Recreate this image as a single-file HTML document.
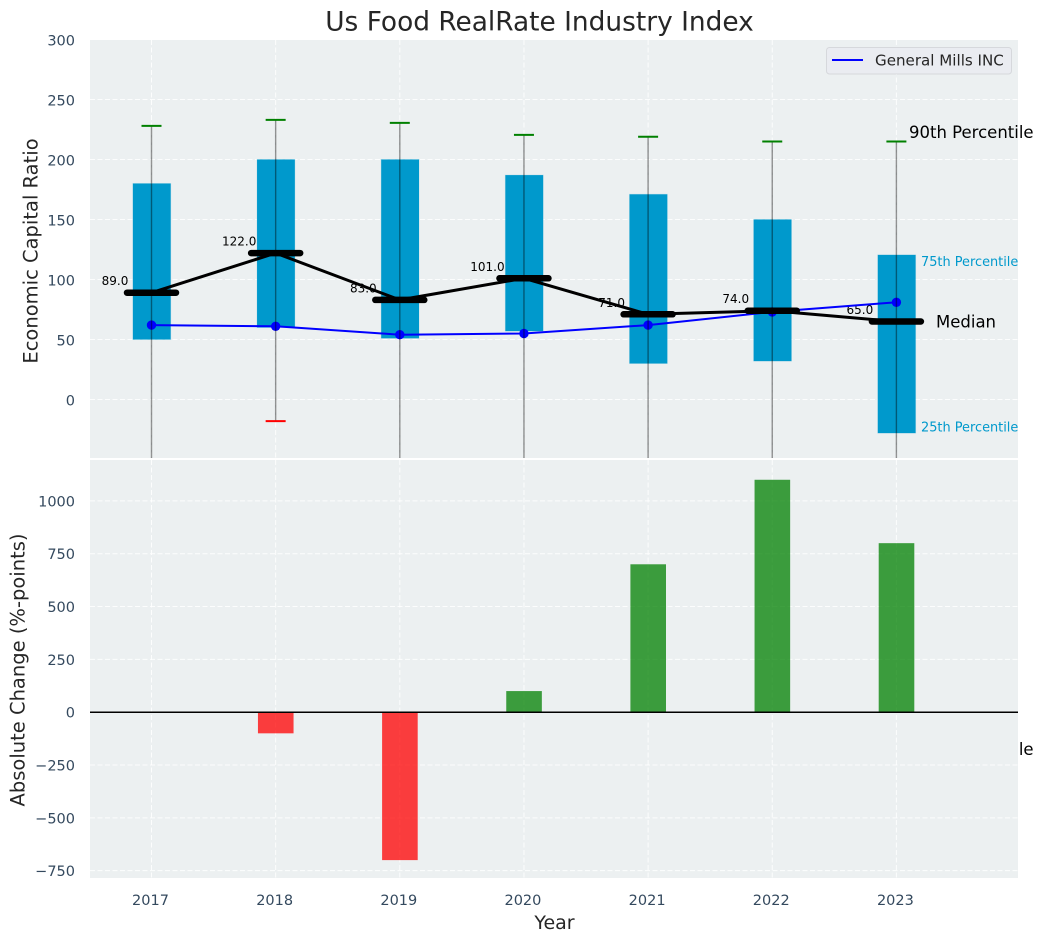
<!DOCTYPE html>
<html lang="en">
<head>
<meta charset="utf-8">
<title>Us Food RealRate Industry Index</title>
<style>
html,body{margin:0;padding:0;background:#fff;width:1044px;height:942px;overflow:hidden}
svg{display:block;font-family:"DejaVu Sans","Liberation Sans",sans-serif}
</style>
</head>
<body>
<svg id="chart" xmlns="http://www.w3.org/2000/svg" width="1044" height="942" viewBox="0 0 1044 942">
  <defs>
    <clipPath id="clip-top"><rect x="90" y="40" width="928" height="418"></rect></clipPath>
    <clipPath id="clip-bottom"><rect x="90" y="460" width="928" height="418"></rect></clipPath>
  </defs>
  <text x="539.5" y="30.5" text-anchor="middle" font-size="26.4" fill="#262626">Us Food RealRate Industry Index</text>
  <rect x="90" y="40" width="928" height="418" fill="#ecf0f1"></rect>
  <g id="top-grid"></g>
  <g id="top-labels"></g>
  <g id="top-marks" clip-path="url(#clip-top)"></g>
  <g id="top-annotations"></g>
  <rect x="90" y="460" width="928" height="418" fill="#ecf0f1"></rect>
  <g id="bottom-grid"></g>
  <g id="bottom-marks" clip-path="url(#clip-bottom)"></g>
  <g id="ticks"></g>
  <text transform="translate(37.5,251) rotate(-90)" text-anchor="middle" font-size="19.5" fill="#262626">Economic Capital Ratio</text>
  <text transform="translate(24.5,670) rotate(-90)" text-anchor="middle" font-size="19.5" fill="#262626">Absolute Change (%-points)</text>
  <text x="554.5" y="929" text-anchor="middle" font-size="19" fill="#262626">Year</text>
  <g>
    <rect x="826.5" y="47.5" width="185" height="26.5" rx="3" fill="#eaecf1" stroke="#d6d8dc" stroke-width="1"></rect>
    <line x1="832" y1="60" x2="863" y2="60" stroke="#0000ff" stroke-width="2"></line>
    <text x="875" y="65.5" font-size="15.1" fill="#262626">General Mills INC</text>
  </g>
</svg>
<script>
const years = ['2017', '2018', '2019', '2020', '2021', '2022', '2023'];
const p90 = [228, 233, 230.5, 220.5, 219, 215, 215];
const p75 = [180, 200, 200, 187, 171, 150, 120.5];
const medians = [89, 122, 83, 101, 71, 74, 65];
const p25 = [50, 60, 51, 57, 30, 32, -28];
const p10 = [-250, -18, -180, -200, -260, -280, -299];
const companyValues = [62, 61, 54, 55, 62, 73, 81];
const changeValues = [0, -100, -700, 100, 700, 1100, 800];
const topTicks = [0, 50, 100, 150, 200, 250, 300];
const bottomTicks = [-750, -500, -250, 0, 250, 500, 750, 1000];

const NS = 'http://www.w3.org/2000/svg';
const xScale = i => 151.5 + i * 124.15;
const yTop = v => 399.5 - v * 1.2;
const yBottom = v => 712.2 - v * 0.2113;
const g = id => document.getElementById(id);

function mk(parent, tag, attrs, txt) {
  const el = document.createElementNS(NS, tag);
  for (const k in attrs) el.setAttribute(k, attrs[k]);
  if (txt !== undefined) el.textContent = txt;
  parent.appendChild(el);
  return el;
}
const gridStyle = {stroke: '#ffffff', 'stroke-width': 1, 'stroke-dasharray': '5 2.5', 'stroke-opacity': 0.85};
const tickStyle = {'font-size': 14.5, fill: '#34495e'};

topTicks.forEach(v => {
  const line = mk(g('top-grid'), 'line', {x1: 90, x2: 1018, y1: yTop(v), y2: yTop(v), ...gridStyle});
  
  
  const t = mk(g('ticks'), 'text', {x: 75, y: yTop(v) + 6, 'text-anchor': 'end', ...tickStyle}, String(v));
  
  
});
bottomTicks.forEach(v => {
  const line = mk(g('bottom-grid'), 'line', {x1: 90, x2: 1018, y1: yBottom(v), y2: yBottom(v), ...gridStyle});
  
  
  const t = mk(g('ticks'), 'text', {x: 75, y: yBottom(v) + 5.5, 'text-anchor': 'end', ...tickStyle}, String(v).replace('-', '\u2212'));
  
  
});
years.forEach((yr, i) => {
  const x = xScale(i);
  const a = mk(g('top-grid'), 'line', {x1: x, x2: x, y1: 40, y2: 458, ...gridStyle});
  
  
  const b = mk(g('bottom-grid'), 'line', {x1: x, x2: x, y1: 460, y2: 878, ...gridStyle});
  
  
  const t = mk(g('ticks'), 'text', {x: x - 1, y: 905, 'text-anchor': 'middle', ...tickStyle}, yr);
  
  
});

medians.forEach((v, i) => {
  const t = mk(g('top-labels'), 'text', {x: xScale(i) - 36.5, y: yTop(v) - 7.5, 'text-anchor': 'middle', 'font-size': 12, fill: '#000'}, v.toFixed(1));
  
  
});

const marks = g('top-marks');
years.forEach((yr, i) => {
  const box = mk(marks, 'rect', {x: xScale(i) - 18.6, width: 37.8, y: yTop(p75[i]), height: yTop(p25[i]) - yTop(p75[i]), fill: '#0099cc', stroke: '#0099cc', 'stroke-opacity': 0.15, 'stroke-width': 1});
  
  
});
const medianPath = mk(marks, 'polyline', {points: medians.map((v, i) => xScale(i) + ',' + yTop(v)).join(' '), fill: 'none', stroke: '#000', 'stroke-width': 3});


const companyPath = mk(marks, 'polyline', {points: companyValues.map((v, i) => xScale(i) + ',' + yTop(v)).join(' '), fill: 'none', stroke: '#0000ff', 'stroke-width': 2});


companyValues.forEach((v, i) => {
  const dot = mk(marks, 'circle', {cx: xScale(i), cy: yTop(v), r: 4.7, fill: '#0000ff'});
  
  
});
medians.forEach((v, i) => {
  const bar = mk(marks, 'line', {x1: xScale(i) - 24.5, x2: xScale(i) + 24.5, y1: yTop(v), y2: yTop(v), stroke: '#000', 'stroke-width': 6.5, 'stroke-linecap': 'round'});
  
  
});
years.forEach((yr, i) => {
  const x = xScale(i);
  const w = mk(marks, 'line', {x1: x, x2: x, y1: yTop(p90[i]), y2: yTop(p10[i]), stroke: '#000', 'stroke-opacity': 0.42, 'stroke-width': 1.4});
  
  
  const hi = mk(marks, 'line', {x1: x - 10, x2: x + 10, y1: yTop(p90[i]), y2: yTop(p90[i]), stroke: '#008000', 'stroke-width': 2});
  
  
  const lo = mk(marks, 'line', {x1: x - 10, x2: x + 10, y1: yTop(p10[i]), y2: yTop(p10[i]), stroke: '#ff0000', 'stroke-width': 2});
  
  
});

const last = years.length - 1;
const lx = xScale(last);
const big = {'font-size': 16.5, fill: '#000'};
const small = {'font-size': 12.9, fill: '#0099cc'};
const a90 = mk(g('top-annotations'), 'text', {x: lx + 12.6, y: yTop(p90[last]) - 3.5, ...big}, '90th Percentile');


const a75 = mk(g('top-annotations'), 'text', {x: lx + 24.6, y: yTop(p75[last]) + 11, ...small}, '75th Percentile');


const aMed = mk(g('top-annotations'), 'text', {x: lx + 39.6, y: yTop(medians[last]) + 6, ...big}, 'Median');


const a25 = mk(g('top-annotations'), 'text', {x: lx + 24.6, y: yTop(p25[last]) - 1.5, ...small}, '25th Percentile');


const a10 = mk(g('top-annotations'), 'text', {x: lx + 12.6, y: yTop(p10[last]) - 3.5, ...big}, '10th Percentile');



changeValues.forEach((v, i) => {
  const top = Math.min(yBottom(v), yBottom(0));
  const bar = mk(g('bottom-marks'), 'rect', {x: xScale(i) - 17.7, width: 35.6, y: top, height: Math.abs(yBottom(v) - yBottom(0)), fill: v >= 0 ? '#008000' : '#ff0000', 'fill-opacity': 0.75});
  
  
});
const zero = mk(g('bottom-marks'), 'line', {x1: 90, x2: 1018, y1: yBottom(0), y2: yBottom(0), stroke: '#000', 'stroke-width': 1.5});


</script>
</body>
</html>
